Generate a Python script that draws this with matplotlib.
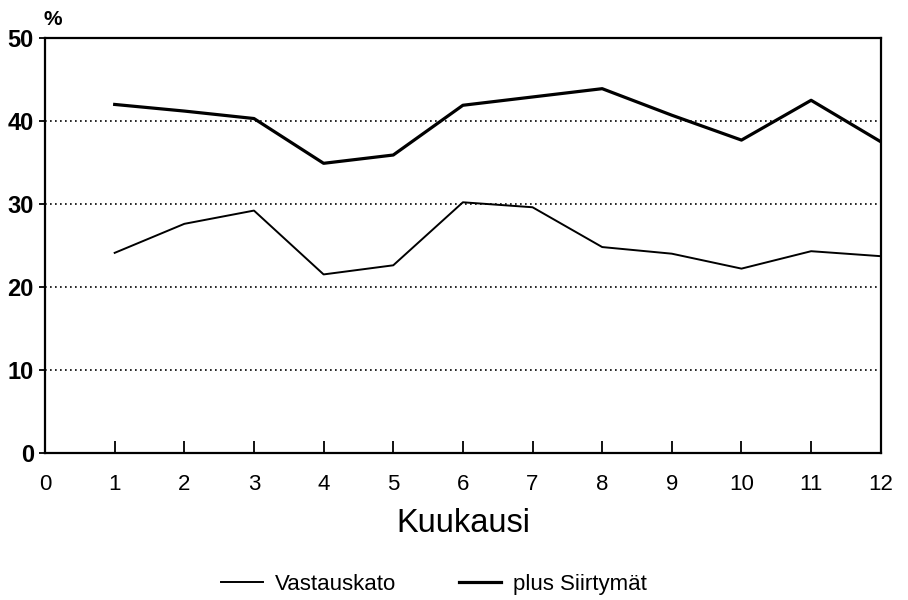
import matplotlib
matplotlib.use("Agg")
from matplotlib import pyplot as plt

plt.rcParams['font.family'] = ['Liberation Sans', 'DejaVu Sans']

# months and the two series
months = [1, 2, 3, 4, 5, 6, 7, 8, 9, 10, 11, 12]
vastauskato = [24.1, 27.6, 29.2, 21.5, 22.6, 30.2, 29.6, 24.8, 24.0, 22.2, 24.3, 23.7]
plus_siirtymat = [42.0, 41.2, 40.3, 34.9, 35.9, 41.9, 42.9, 43.9, 40.7, 37.7, 42.5, 37.5]

x_ticks = list(range(0, 13))
y_ticks = [0, 10, 20, 30, 40, 50]
grid_levels = [10, 20, 30, 40]

fig = plt.figure(figsize=(9.08, 6.0), dpi=100)
ax = fig.add_axes([0.0496, 0.2455, 0.9204, 0.691])

for g in grid_levels:
    ax.axhline(g, color='black', linestyle=(0, (1, 2)), linewidth=1.2, zorder=1)

l1, = ax.plot(months, vastauskato, color='black', linewidth=1.4, label='Vastauskato', zorder=3)
l2, = ax.plot(months, plus_siirtymat, color='black', linewidth=2.3, label='plus Siirtymät', zorder=3)

ax.set_xlim(0, 12)
ax.set_ylim(0, 50)
ax.set_xticks(x_ticks)
ax.set_yticks(y_ticks)
ax.tick_params(axis='x', direction='in', length=9, width=1.3, pad=15, labelsize=16)
ax.tick_params(axis='y', direction='out', length=4, width=1.3, pad=4, labelsize=17)
for lab in ax.get_yticklabels():
    lab.set_fontweight('bold')
for lab in ax.get_xticklabels():
    lab.set_fontweight('medium')
for s in ax.spines.values():
    s.set_linewidth(1.6)

ax.set_xlabel('Kuukausi', fontsize=23.5, labelpad=10)
fig.text(0.048, 0.967, '%', fontsize=15, fontweight='bold', ha='left', va='center')

fig.legend(handles=[l1, l2], loc='center', bbox_to_anchor=(0.478, 0.026),
           ncol=2, frameon=False, fontsize=16, handlelength=1.9,
           handletextpad=0.55, columnspacing=2.8)

fig.savefig('out.png', dpi=100)
